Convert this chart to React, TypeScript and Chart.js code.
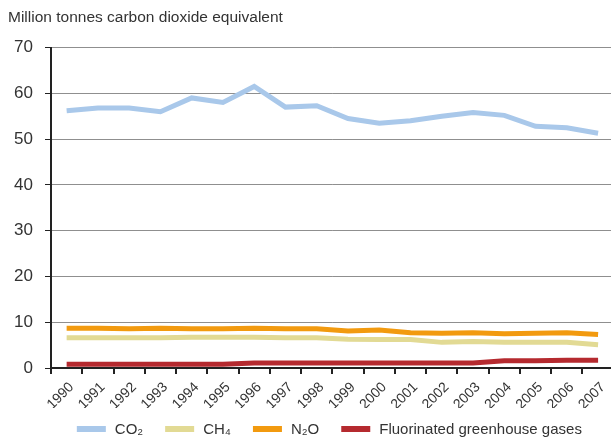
import React, { useEffect, useRef } from "react";
import { Chart, registerables } from "chart.js";

Chart.register(...registerables);

const years = ["1990","1991","1992","1993","1994","1995","1996","1997","1998","1999","2000","2001","2002","2003","2004","2005","2006","2007"];
const co2 = [56.2, 56.8, 56.8, 56.0, 59.0, 58.0, 61.5, 57.0, 57.3, 54.5, 53.5, 54.0, 55.0, 55.8, 55.2, 52.8, 52.5, 51.3];
const ch4 = [6.6, 6.6, 6.6, 6.6, 6.7, 6.7, 6.7, 6.6, 6.6, 6.3, 6.2, 6.2, 5.6, 5.8, 5.6, 5.6, 5.6, 5.1];
const n2o = [8.7, 8.7, 8.6, 8.7, 8.6, 8.6, 8.7, 8.6, 8.6, 8.1, 8.3, 7.7, 7.6, 7.7, 7.5, 7.6, 7.7, 7.3];
const fgas = [0.8, 0.8, 0.8, 0.8, 0.8, 0.8, 1.1, 1.1, 1.1, 1.1, 1.1, 1.1, 1.1, 1.1, 1.6, 1.6, 1.7, 1.7];
const seriesNames = ["CO\u2082", "CH\u2084", "N\u2082O", "Fluorinated greenhouse gases"];
const seriesColors = ["#a9c8ea", "#e2da94", "#f29a0f", "#b52a2f"];
const yTicks = [0, 10, 20, 30, 40, 50, 60, 70];
const titleText = "Million tonnes carbon dioxide equivalent";

const FONT = "'Liberation Sans', Arial, sans-serif";
const TEXT = "#333333";

const legendPlugin = {
  id: "customLegend",
  afterDraw(chart: any) {
    const ctx = chart.ctx as CanvasRenderingContext2D;
    const area = chart.chartArea;
    const boxW = 29, boxH = 6, gapText = 9, gapItem = 22;
    ctx.save();
    ctx.font = `15px ${FONT}`;
    const items = chart.data.datasets.map((d: any) => ({
      label: d.label as string,
      color: d.borderColor as string,
      w: ctx.measureText(d.label).width,
    }));
    const total = items.reduce((s: number, it: any) => s + boxW + gapText + it.w, 0) + gapItem * (items.length - 1);
    let x = (area.left + area.right) / 2 - total / 2 - 3;
    const cy = 429;
    ctx.textBaseline = "middle";
    ctx.textAlign = "left";
    for (const it of items) {
      ctx.fillStyle = it.color;
      ctx.fillRect(x, cy - boxH / 2, boxW, boxH);
      x += boxW + gapText;
      ctx.fillStyle = TEXT;
      ctx.fillText(it.label, x, cy + 1);
      x += it.w + gapItem;
    }
    ctx.restore();
  },
};

export default function App() {
  const ref = useRef<HTMLCanvasElement | null>(null);
  useEffect(() => {
    document.body.style.margin = "0";
    const values = [co2, ch4, n2o, fgas];
    const chart = new Chart(ref.current as HTMLCanvasElement, {
      type: "line",
      data: {
        labels: years,
        datasets: values.map((v, i) => ({
          label: seriesNames[i],
          data: v,
          borderColor: seriesColors[i],
          backgroundColor: seriesColors[i],
          borderWidth: 5,
          pointRadius: 0,
          tension: 0,
          borderCapStyle: "butt" as const,
        })),
      },
      plugins: [legendPlugin],
      options: {
        animation: false,
        responsive: false,
        maintainAspectRatio: false,
        layout: { padding: { left: 8, right: 1, top: 0, bottom: 34 } },
        plugins: {
          title: {
            display: true,
            text: titleText,
            align: "start",
            color: TEXT,
            font: { family: FONT, size: 15.5, weight: "normal" },
            padding: { top: 8, bottom: 21 },
          },
          legend: { display: false },
          tooltip: { enabled: false },
        },
        scales: {
          x: {
            offset: true,
            afterFit: (scale: any) => {
              scale.height = 40;
            },
            grid: {
              offset: true,
              drawOnChartArea: false,
              drawTicks: true,
              tickLength: 6,
              tickColor: "#222",
              lineWidth: 2,
            },
            border: { color: "#222", width: 2 },
            ticks: {
              minRotation: 45,
              maxRotation: 45,
              autoSkip: false,
              color: TEXT,
              padding: 5,
              labelOffset: 5,
              font: { family: FONT, size: 14 },
            },
          },
          y: {
            min: 0,
            max: 70,
            afterBuildTicks: (scale: any) => {
              scale.ticks = yTicks.map((v) => ({ value: v }));
            },
            afterFit: (scale: any) => {
              scale.width = 43;
            },
            grid: {
              color: "#8f8f8f",
              lineWidth: 1,
              tickLength: 6,
              tickColor: "#222",
            },
            border: { color: "#222", width: 2 },
            ticks: {
              color: TEXT,
              padding: 12,
              font: { family: FONT, size: 17 },
            },
          },
        },
      },
    });
    return () => chart.destroy();
  }, []);
  return (
    <div style={{ position: "absolute", left: 0, top: 0, width: 611, height: 442, overflow: "hidden" }}>
      <canvas ref={ref} width={615} height={442} style={{ width: 615, height: 442, display: "block" }} />
    </div>
  );
}
